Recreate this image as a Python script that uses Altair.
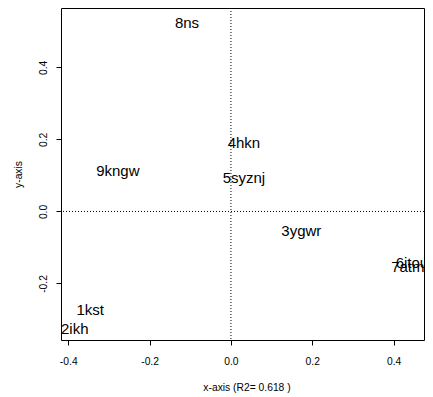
import altair as alt
import pandas as pd

labels = ["1kst", "2ikh", "3ygwr", "4hkn", "5syznj", "6itou", "7atm", "8ns", "9kngw"]
xs = [-0.346, -0.384, 0.173, 0.032, 0.032, 0.445, 0.435, -0.108, -0.278]
ys = [-0.275, -0.326, -0.054, 0.190, 0.094, -0.142, -0.153, 0.524, 0.1125]

x_ticks = [-0.4, -0.2, 0.0, 0.2, 0.4]
y_ticks = [-0.2, 0.0, 0.2, 0.4]
x_domain = [-0.4178, 0.4747]
y_domain = [-0.357, 0.565]
x_title = "x-axis (R2= 0.618 )"
y_title = "y-axis"

df = pd.DataFrame({"x": xs, "y": ys, "label": labels})
zero_x = pd.DataFrame({"x": [0.0]})
zero_y = pd.DataFrame({"y": [0.0]})

FONT = "Liberation Sans"
fix_minus = "replace(datum.label, '\u2212', '-')"

x_enc = alt.X(
    "x:Q",
    scale=alt.Scale(domain=x_domain, nice=False, zero=False),
    axis=alt.Axis(
        values=x_ticks, format=".1f", labelExpr=fix_minus,
        title=x_title, grid=False, domain=False,
        tickSize=5, tickColor="black", tickWidth=1,
        labelFont=FONT, labelFontSize=10.3, labelColor="black",
        labelBaseline="alphabetic", labelPadding=19.5,
        labelFlush=False, labelOverlap=False,
        titleFont=FONT, titleFontSize=10.3, titleFontWeight="normal",
        titleColor="black", titleBaseline="alphabetic",
        titleX=185.5, titleY=50, titleAlign="center",
    ),
)
y_enc = alt.Y(
    "y:Q",
    scale=alt.Scale(domain=y_domain, nice=False, zero=False),
    axis=alt.Axis(
        values=y_ticks, format=".1f", labelExpr=fix_minus,
        title=y_title, grid=False, domain=False,
        tickSize=5, tickColor="black", tickWidth=1,
        labelFont=FONT, labelFontSize=10.3, labelColor="black",
        labelAngle=270, labelAlign="center", labelBaseline="alphabetic",
        labelPadding=9.5, labelFlush=False, labelOverlap=False,
        titleFont=FONT, titleFontSize=10.3, titleFontWeight="normal",
        titleColor="black", titleAngle=270, titleAlign="center",
        titleBaseline="alphabetic", titleX=-39.5, titleY=166,
    ),
)

texts = alt.Chart(df).mark_text(
    font=FONT, fontSize=15, color="black", baseline="middle", align="center", clip=True
).encode(x=x_enc, y=y_enc, text="label:N")

vline = alt.Chart(zero_x).mark_rule(color="black", strokeDash=[1, 2], strokeWidth=1).encode(x="x:Q")
hline = alt.Chart(zero_y).mark_rule(color="black", strokeDash=[1, 2], strokeWidth=1).encode(y="y:Q")

chart = alt.layer(vline, hline, texts).properties(
    width=363,
    height=332,
    autosize=alt.AutoSizeParams(type="none"),
    padding={"left": 53, "top": 0, "right": 1, "bottom": 54},
    background="white",
).configure_view(stroke="black", strokeWidth=1)

chart.save("out.html", embed_options={"renderer": "svg", "actions": False})
